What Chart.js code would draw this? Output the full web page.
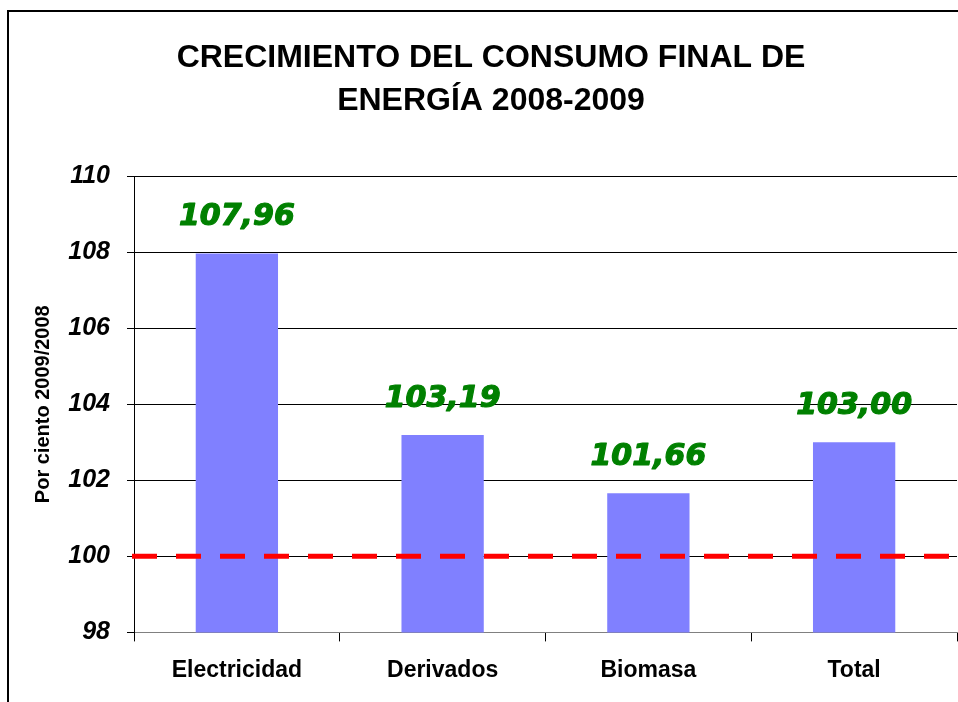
<!DOCTYPE html>
<html>
<head>
<meta charset="utf-8">
<script src="https://cdn.jsdelivr.net/npm/chart.js@4"></script>
<style>
  html, body { margin: 0; padding: 0; background: #fff; }
  #wrap { width: 958px; height: 702px; }
</style>
</head>
<body>
<div id="wrap"><canvas id="energyChart" width="958" height="702"></canvas></div>
<script>
// ===== DATA =====
const categories = ["Electricidad", "Derivados", "Biomasa", "Total"];
const growthValues = [107.96, 103.19, 101.66, 103.00];
const baseLine = 100;
const titleLines = ["CRECIMIENTO DEL CONSUMO FINAL DE", "ENERGÍA 2008-2009"];
const yAxisTitle = "Por ciento 2009/2008";

// ===== FRAME AROUND THE CHART =====
const framePlugin = {
  id: "frame",
  beforeDraw(chart) {
    const ctx = chart.ctx;
    ctx.save();
    ctx.fillStyle = "#fff";
    ctx.fillRect(0, 0, chart.width, chart.height);
    ctx.strokeStyle = "#000";
    ctx.lineWidth = 2;
    ctx.beginPath();
    ctx.moveTo(8, chart.height);
    ctx.lineTo(8, 11);
    ctx.lineTo(chart.width, 11);
    ctx.stroke();
    ctx.restore();
  }
};

// ===== RED DASHED LINE AT 100 + VALUE LABELS =====
const overlayPlugin = {
  id: "overlay",
  afterDatasetsDraw(chart) {
    const ctx = chart.ctx;
    const area = chart.chartArea;
    const y = chart.scales.y.getPixelForValue(baseLine);
    ctx.save();
    ctx.strokeStyle = "#FF0000";
    ctx.lineWidth = 5;
    ctx.setLineDash([25, 19]);
    ctx.beginPath();
    ctx.moveTo(area.left - 2, y);
    ctx.lineTo(chart.width, y);
    ctx.stroke();
    ctx.setLineDash([]);

    // value labels, slightly stroked to look heavier
    ctx.fillStyle = "#008000";
    ctx.strokeStyle = "#008000";
    ctx.lineWidth = 1.2;
    ctx.lineJoin = "round";
    ctx.font = "italic bold 30px 'DejaVu Sans'";
    ctx.textAlign = "center";
    ctx.textBaseline = "middle";
    chart.getDatasetMeta(0).data.forEach(function(bar, i) {
      const txt = growthValues[i].toFixed(2).replace(".", ",");
      ctx.fillText(txt, bar.x, bar.y - 36);
      ctx.strokeText(txt, bar.x, bar.y - 36);
    });
    ctx.restore();
  }
};

new Chart(document.getElementById("energyChart"), {
  type: "bar",
  data: {
    labels: categories,
    datasets: [{
      data: growthValues,
      backgroundColor: "#8080FF",
      borderWidth: 0,
      categoryPercentage: 1,
      barPercentage: 0.4
    }]
  },
  options: {
    responsive: false,
    animation: false,
    layout: { padding: { left: 25, right: 1, top: 0, bottom: 3 } },
    plugins: {
      legend: { display: false },
      tooltip: { enabled: false },
      title: {
        display: true,
        text: titleLines,
        color: "#000",
        font: { family: "'Liberation Sans', Arial", size: 32, weight: "bold", lineHeight: 1.36 },
        padding: { top: 36, bottom: 53 }
      }
    },
    scales: {
      x: {
        grid: { drawOnChartArea: false, color: "#000", tickLength: 9, offset: true },
        border: { color: "#808080" },
        ticks: {
          color: "#000",
          padding: 15,
          font: { family: "'Liberation Sans', Arial", size: 23, weight: "bold" }
        }
      },
      y: {
        min: 98,
        max: 110,
        afterFit: function(scale) { scale.width = 109; },
        grid: { color: "#000", tickLength: 7 },
        border: { color: "#000" },
        ticks: {
          stepSize: 2,
          color: "#000",
          padding: 17,
          font: { family: "'Liberation Sans', Arial", size: 25, weight: "bold", style: "italic" }
        },
        title: {
          display: true,
          text: yAxisTitle,
          color: "#000",
          padding: { top: 6, bottom: 0 },
          font: { family: "'Liberation Sans', Arial", size: 20, weight: "bold" }
        }
      }
    }
  },
  plugins: [framePlugin, overlayPlugin]
});
</script>
</body>
</html>
